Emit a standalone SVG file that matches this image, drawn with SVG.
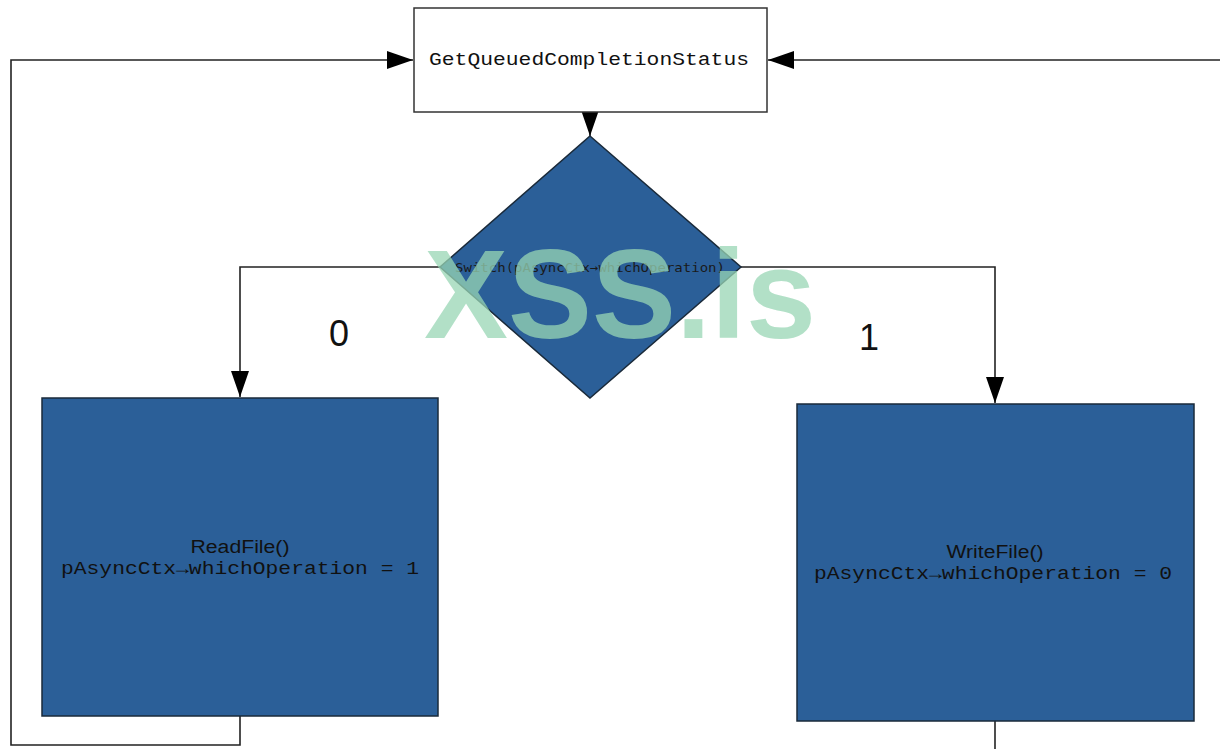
<svg xmlns="http://www.w3.org/2000/svg" width="1220" height="749" viewBox="0 0 1220 749">
<style>
.line{fill:none;stroke:#222;stroke-width:1.6}
.box{fill:#2b5f98;stroke:#1a2a3a;stroke-width:1.5}
.mono{font-family:"Liberation Mono","DejaVu Sans Mono",monospace;fill:#111}
.sans{font-family:"Liberation Sans",Arial,sans-serif;fill:#111}
</style>
<defs>
<marker id="ah" viewBox="0 0 26 18" refX="26" refY="9" markerWidth="26" markerHeight="18" markerUnits="userSpaceOnUse" orient="auto">
<path d="M0,0 L26,9 L0,18 Z" fill="#000"/>
</marker>
</defs>
<rect width="1220" height="749" fill="#fff"/>
<g id="connectors">
<path class="line" d="M240,716 V745 H11 V60 H413" marker-end="url(#ah)"/>
<path class="line" d="M1220,60 H768" marker-end="url(#ah)"/>
<path class="line" d="M590,112 V136" marker-end="url(#ah)"/>
<path class="line" d="M440,267 H240 V397" marker-end="url(#ah)"/>
<path class="line" d="M741,267 H995 V403" marker-end="url(#ah)"/>
<path class="line" d="M995,721 V749"/>
</g>
<g id="node-gqcs">
<rect x="414" y="8" width="353" height="104" fill="#fff" stroke="#333" stroke-width="1.5"/>
<text class="mono" x="589" y="65" font-size="18" text-anchor="middle" textLength="320" lengthAdjust="spacingAndGlyphs">GetQueuedCompletionStatus</text>
</g>
<g id="node-switch">
<polygon points="590,136 741,267 590,398 440,267" fill="#2b5f98" stroke="#1a2a3a" stroke-width="1.5"/>
<text x="590" y="272" font-family="DejaVu Sans Mono,monospace" fill="#1a1a1a" font-size="13" text-anchor="middle" textLength="270" lengthAdjust="spacingAndGlyphs">Switch(pAsyncCtx→whichOperation)</text>
</g>
<g id="label-0"><text class="sans" x="339" y="346" font-size="36" text-anchor="middle">0</text></g>
<g id="label-1"><text class="sans" x="869" y="350" font-size="36" text-anchor="middle">1</text></g>
<g id="node-read">
<rect class="box" x="42" y="398" width="396" height="318"/>
<text class="sans" x="240" y="553" font-size="18" text-anchor="middle" textLength="99" lengthAdjust="spacingAndGlyphs">ReadFile()</text>
<text class="mono" x="240" y="574" font-size="18" text-anchor="middle" textLength="358" lengthAdjust="spacingAndGlyphs">pAsyncCtx→whichOperation = 1</text>
</g>
<g id="node-write">
<rect class="box" x="797" y="404" width="397" height="317"/>
<text class="sans" x="995" y="558" font-size="18" text-anchor="middle" textLength="97" lengthAdjust="spacingAndGlyphs">WriteFile()</text>
<text class="mono" x="993" y="579" font-size="18" text-anchor="middle" textLength="358" lengthAdjust="spacingAndGlyphs">pAsyncCtx→whichOperation = 0</text>
</g>
<g id="watermark">
<text x="620" y="338" font-family="Liberation Sans,Arial,sans-serif" font-weight="bold" font-size="126" text-anchor="middle" fill="#98d6b4" fill-opacity="0.75" textLength="392" lengthAdjust="spacingAndGlyphs">XSS.is</text>
</g>
</svg>
